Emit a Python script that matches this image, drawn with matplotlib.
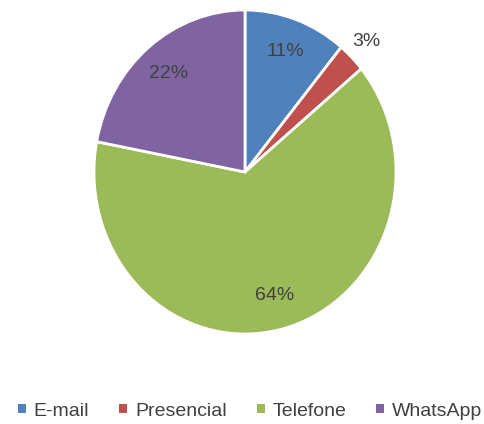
import numpy as np
import matplotlib.pyplot as plt
from matplotlib.patches import Patch

plt.rcParams["font.family"] = ["Liberation Sans", "DejaVu Sans"]

# dados
canais = ["E-mail", "Presencial", "Telefone", "WhatsApp"]
valores = [11, 3, 64, 22]
cores = ["#4F81BD", "#C0504D", "#9BBB59", "#8064A2"]

fig = plt.figure(figsize=(4.84, 4.24), dpi=100)
# a pizza do original é levemente esticada na vertical
cx, cy, rx, ry = 245, 172, 151, 162
ax = fig.add_axes([(cx - rx) / 484, (424 - cy - ry) / 424, 2 * rx / 484, 2 * ry / 424])

wedges, texts, autotexts = ax.pie(
    valores, colors=cores, startangle=90, counterclock=False,
    autopct="%1.0f%%", pctdistance=0.79,
    wedgeprops=dict(edgecolor="white", linewidth=2),
    textprops=dict(color="#404040", fontsize=14),
)
ax.set_aspect("auto")
ax.set_xlim(-1, 1)
ax.set_ylim(-1, 1)

# rótulo pequeno vai para fora da fatia
for w, t, v in zip(wedges, autotexts, valores):
    if v < 5:
        ang = np.deg2rad((w.theta1 + w.theta2) / 2)
        t.set_position((1.14 * np.cos(ang), 1.14 * np.sin(ang)))
    t.set_clip_on(False)

handles = [Patch(facecolor=c, edgecolor="none") for c in cores]
fig.legend(handles, canais, loc="center", bbox_to_anchor=(0.517, 1 - 411 / 424),
           ncol=4, frameon=False, fontsize=14, handlelength=0.4, handleheight=0.4,
           handletextpad=0.4, columnspacing=1.55, labelcolor="#404040")

fig.savefig("out.png", dpi=100)
